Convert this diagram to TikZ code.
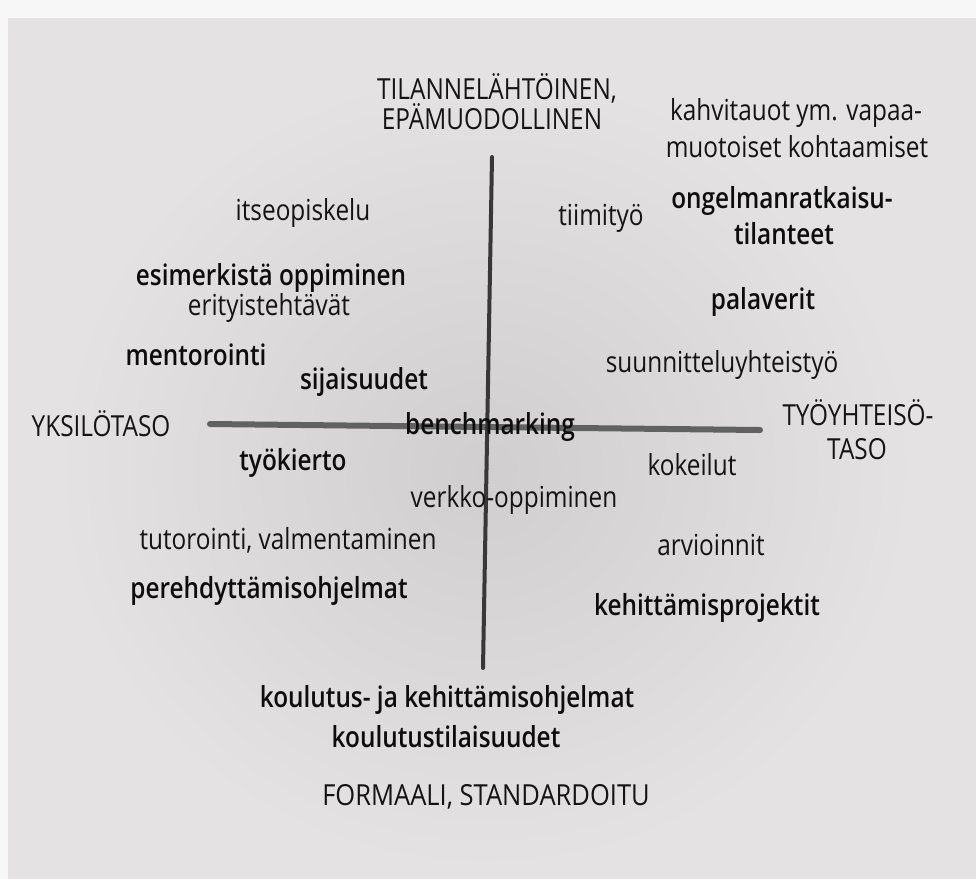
\documentclass[tikz,border=0pt]{standalone}
\usepackage{fontspec}
\setmainfont{Open Sans}[FakeStretch=0.84, BoldFont={Open Sans Semibold}]
\begin{document}
\begin{tikzpicture}[x=1pt,y=-1pt,
  lbl/.style={inner sep=0pt, font=\fontsize{29}{34}\selectfont, text=black!92},
  bl/.style={lbl, font=\fontsize{29}{34}\selectfont\bfseries, text=black!95},
  ax/.style={line cap=round}]
\definecolor{paper}{HTML}{E4E2E2}
\definecolor{shadow}{HTML}{D0CECE}
\useasboundingbox (0,0) rectangle (976,879);
\fill[white!97!black] (0,0) rectangle (976,879);
\fill[paper] (8,18) rectangle (976,879);
\shade[inner color=shadow, outer color=paper] (485,470) ellipse (430 and 400);
% axes
\coordinate (hl) at (210,424);
\coordinate (hr) at (760,430);
\coordinate (vt) at (492,157);
\coordinate (vb) at (483,668);
\draw[ax, line width=6pt, draw=black!62] (hl) -- (hr);
\draw[ax, line width=4pt, draw=black!78] (vt) -- (vb);
% labels
\node[lbl] (t1) at (497,88) {TILANNELÄHTÖINEN,};
\node[lbl] (t2) at (492,117) {EPÄMUODOLLINEN};
\node[lbl] (k1) at (796,113) {kahvitauot ym. vapaa-};
\node[lbl] (k2) at (797,147) {muotoiset kohtaamiset};
\node[lbl] (its) at (303,213) {itseopiskelu};
\node[lbl] (tii) at (601,218) {tiimityö};
\node[bl] (ong1) at (782,201) {ongelmanratkaisu-};
\node[bl] (ong2) at (784,234) {tilanteet};
\node[bl] (esi) at (271,278) {esimerkistä oppiminen};
\node[lbl] (eri) at (269,308) {erityistehtävät};
\node[bl] (pal) at (763,302) {palaverit};
\node[bl] (men) at (196,355) {mentorointi};
\node[bl] (sij) at (364,382) {sijaisuudet};
\node[lbl] (suu) at (722,365) {suunnitteluyhteistyö};
\node[lbl] (yks) at (101,424) {YKSILÖTASO};
\node[bl] (ben) at (490,427) {benchmarking};
\node[lbl] (ty1) at (858,413) {TYÖYHTEISÖ-};
\node[lbl] (ty2) at (857,449) {TASO};
\node[bl] (tyk) at (293,463) {työkierto};
\node[lbl] (kok) at (692,465) {kokeilut};
\node[lbl] (ver) at (514,500) {verkko-oppiminen};
\node[lbl] (tut) at (288,540) {tutorointi, valmentaminen};
\node[lbl] (arv) at (711,545) {arvioinnit};
\node[bl] (per) at (269,591) {perehdyttämisohjelmat};
\node[bl] (keh) at (707,608) {kehittämisprojektit};
\node[bl] (kou1) at (447,700) {koulutus- ja kehittämisohjelmat};
\node[bl] (kou2) at (446,737) {koulutustilaisuudet};
\node[lbl, font=\fontsize{29}{34}\selectfont\addfontfeature{FakeStretch=0.88}] (for) at (486,797) {FORMAALI, STANDARDOITU};
\end{tikzpicture}
\end{document}
